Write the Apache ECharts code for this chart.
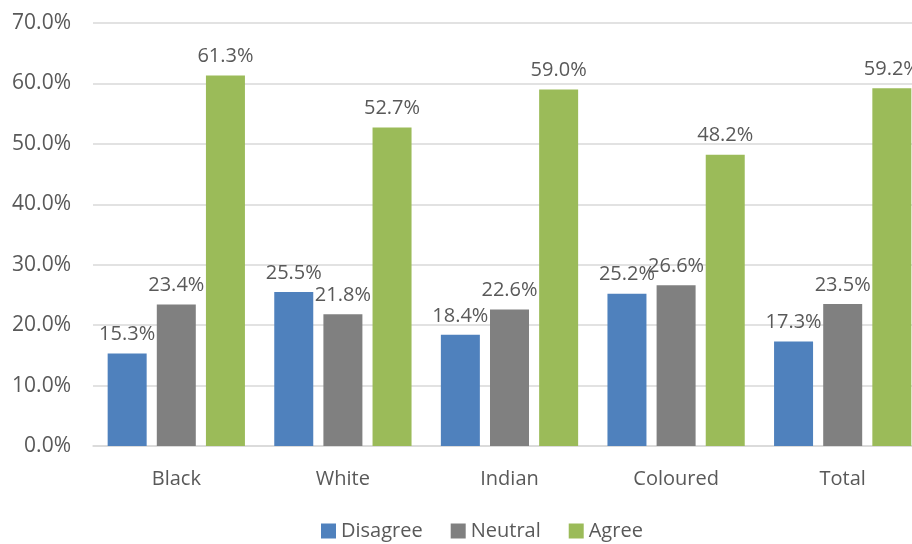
<!DOCTYPE html>
<html><head><meta charset="utf-8">
<script src="https://cdn.jsdelivr.net/npm/echarts@6/dist/echarts.min.js"></script>
<style>html,body{margin:0;padding:0;background:#fff;overflow:hidden}#c{width:926px;height:544px}</style>
</head><body><div id="c"></div>
<script>
const categories = ['Black', 'White', 'Indian', 'Coloured', 'Total'];
const disagree = [15.3, 25.5, 18.4, 25.2, 17.3];
const neutral = [23.4, 21.8, 22.6, 26.6, 23.5];
const agree = [61.3, 52.7, 59.0, 48.2, 59.2];
const seriesNames = ['Disagree', 'Neutral', 'Agree'];
const colors = ['#4F81BD', '#808080', '#9BBB59'];

const font = '"Open Sans", sans-serif';
const txt = '#595959';
const chart = echarts.init(document.getElementById('c'));
const mk = (name, data, color) => ({
  name, type: 'bar', data, barWidth: 39, barGap: '26%',
  itemStyle: { color },
  label: { show: true, position: 'top', distance: 9, color: txt, fontFamily: font, fontSize: 20,
    formatter: p => p.value.toFixed(1) + '%' }
});
chart.setOption({
  animation: false,
  color: colors,
  grid: { left: 93, right: 0, top: 23, bottom: 98, containLabel: false },
  legend: { bottom: -2, left: 316, itemWidth: 15, itemHeight: 15, itemGap: 28, icon: 'rect',
    textStyle: { color: txt, fontFamily: font, fontSize: 20 } },
  xAxis: { type: 'category', data: categories,
    axisLine: { lineStyle: { color: '#d9d9d9', width: 1.5 } }, axisTick: { show: false },
    axisLabel: { color: txt, fontFamily: font, fontSize: 20, margin: 23 } },
  yAxis: { type: 'value', min: 0, max: 70, interval: 10,
    axisLine: { show: false }, axisTick: { show: false },
    splitLine: { lineStyle: { color: '#d9d9d9', width: 1.5 } },
    axisLabel: { color: txt, fontFamily: font, fontSize: 21, margin: 22, formatter: v => v.toFixed(1) + '%' } },
  series: [mk(seriesNames[0], disagree, colors[0]), mk(seriesNames[1], neutral, colors[1]), mk(seriesNames[2], agree, colors[2])]
});
</script></body></html>
